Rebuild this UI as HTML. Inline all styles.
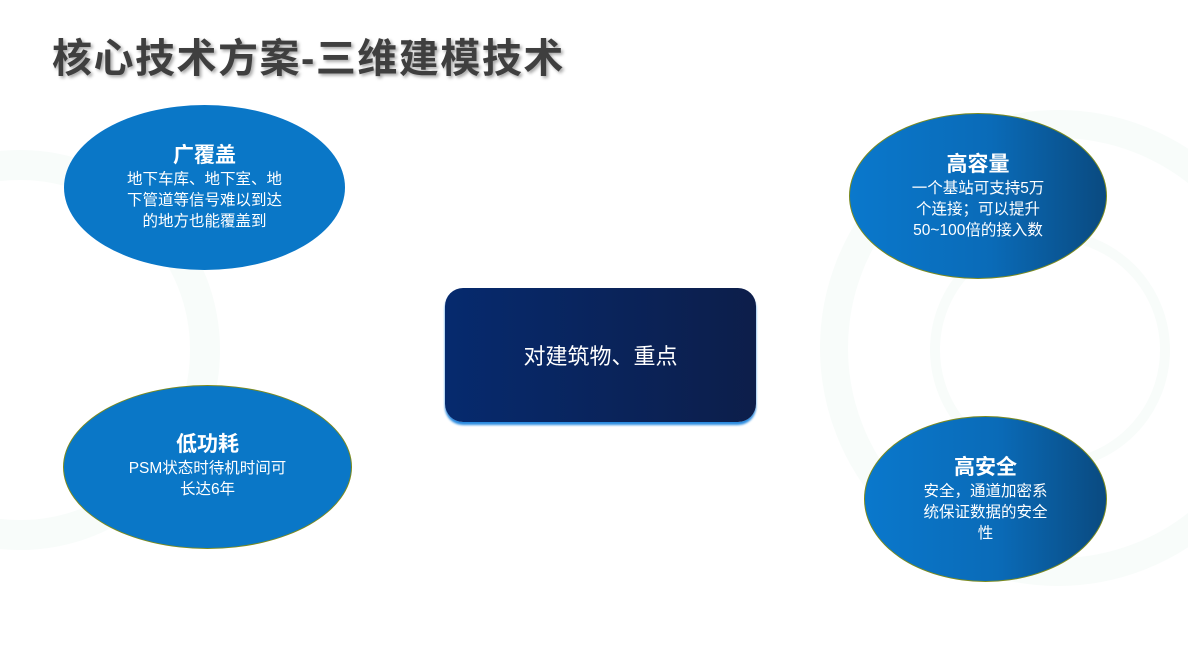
<!DOCTYPE html>
<html><head><meta charset="utf-8"><style>
body{margin:0;width:1188px;height:649px;position:relative;overflow:hidden;background:#fff;font-family:"Liberation Sans","Noto Sans CJK SC",sans-serif}
.t{position:absolute;left:52px;top:26px;font-size:40px;font-weight:bold;color:#3f3f3f;letter-spacing:1.5px;text-shadow:2px 2px 3px rgba(0,0,0,.35);white-space:nowrap}
.e{position:absolute;border-radius:50%;display:flex;flex-direction:column;align-items:center;justify-content:center;color:#fff;text-align:center;box-sizing:border-box}
.e b{font-size:21px;line-height:26px}
.e span{font-size:15.5px;line-height:21px}
.g{background:linear-gradient(90deg,#0a78cc 0%,#0a6bb8 55%,#0a4a80 100%);border:1.5px solid #7a8a20}
.c{position:absolute;left:445px;top:288px;width:311px;height:134px;border-radius:18px;background:linear-gradient(90deg,#062a6e,#0d1e4a);box-shadow:0 3px 2px #2a8be0;color:#fff;font-size:22px;display:flex;align-items:center;justify-content:center}
.bg{position:absolute;border-radius:50%;border:28px solid rgba(200,230,210,.12)}
</style></head><body>
<div class="bg" style="left:820px;top:110px;width:420px;height:420px"></div>
<div class="bg" style="left:930px;top:230px;width:220px;height:220px;border-width:10px"></div>
<div class="bg" style="left:-180px;top:150px;width:340px;height:340px;border-width:30px"></div>
<div class="t">核心技术方案-三维建模技术</div>
<div class="e" style="left:64px;top:105px;width:281px;height:165px;background:#0a77c7"><b>广覆盖</b><span>地下车库、地下室、地<br>下管道等信号难以到达<br>的地方也能覆盖到</span></div>
<div class="e" style="left:63px;top:385px;width:289px;height:164px;background:#0a77c7;border:1.5px solid #7a8a20;justify-content:flex-start;padding-top:46px"><b>低功耗</b><span>PSM状态时待机时间可<br>长达6年</span></div>
<div class="e g" style="left:849px;top:113px;width:258px;height:166px"><b>高容量</b><span>一个基站可支持5万<br>个连接；可以提升<br>50~100倍的接入数</span></div>
<div class="e g" style="left:864px;top:416px;width:243px;height:166px"><b>高安全</b><span>安全，通道加密系<br>统保证数据的安全<br>性</span></div>
<div class="c">对建筑物、重点</div>
</body></html>
